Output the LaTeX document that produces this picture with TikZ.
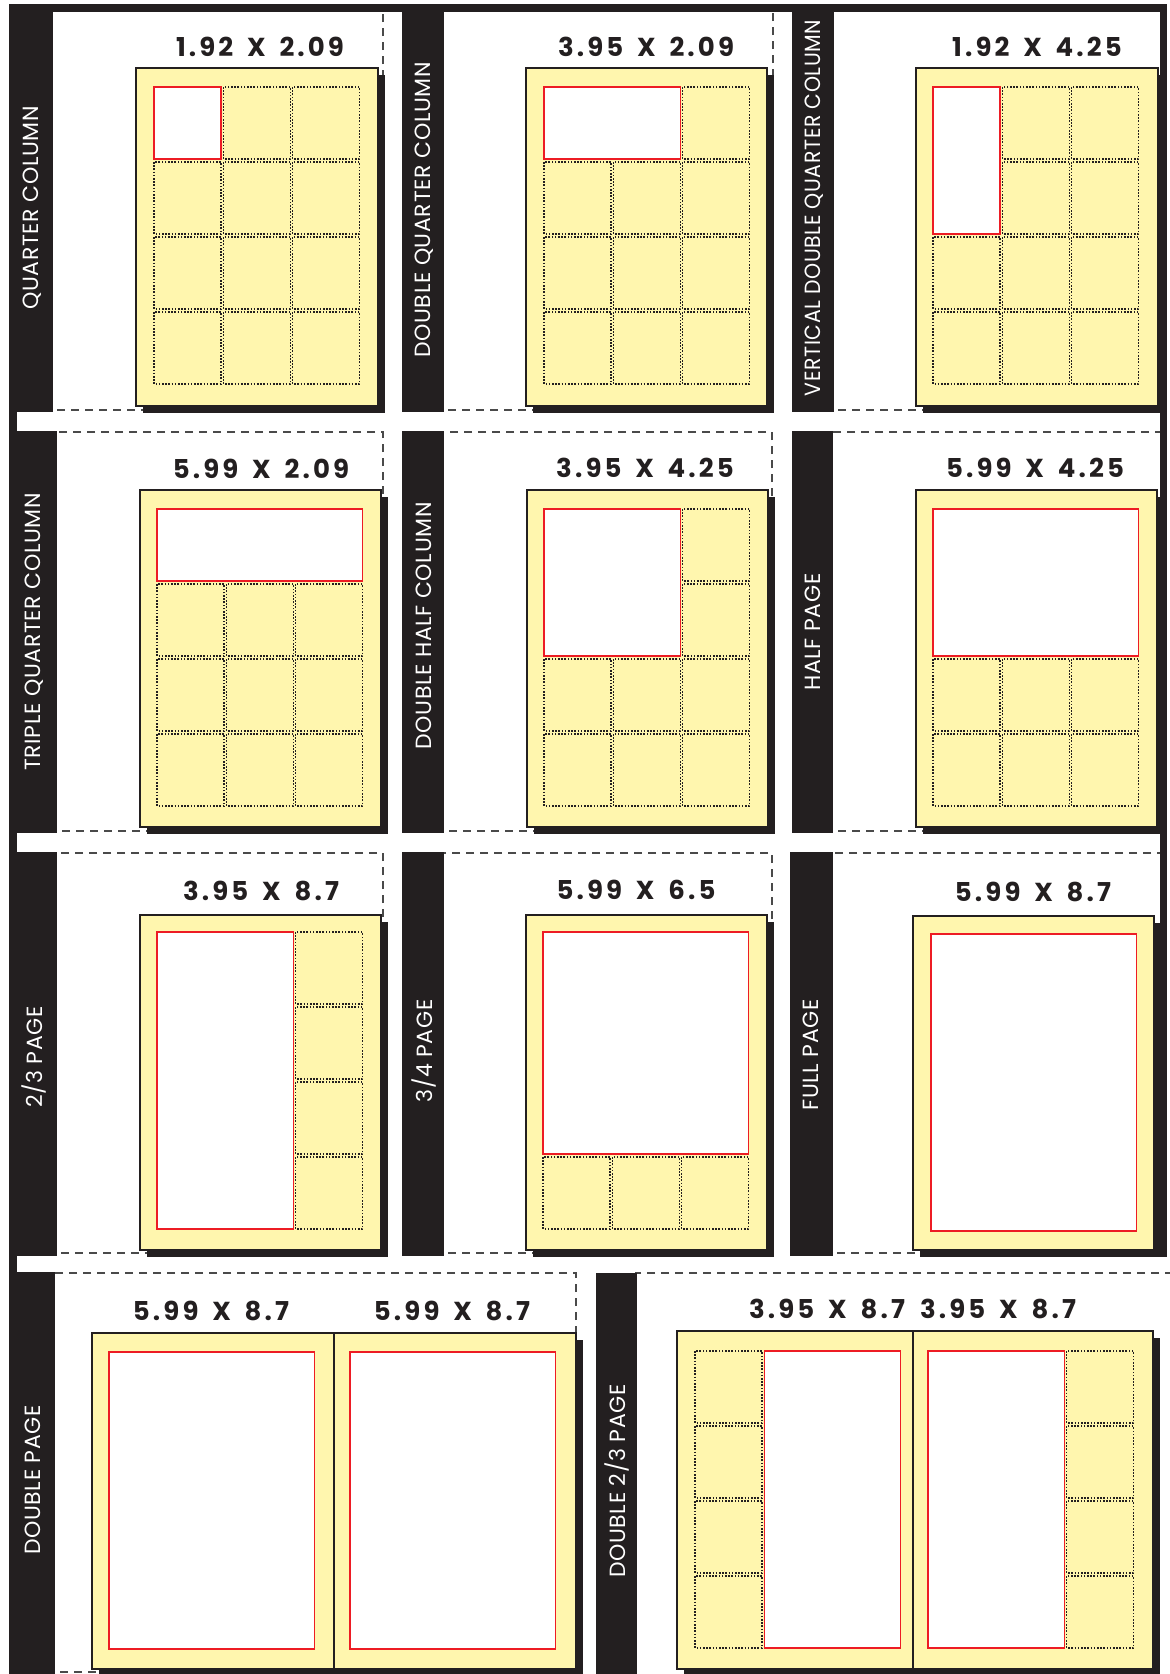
\documentclass[tikz,border=0pt]{standalone}
\usepackage{fontspec}
\usepackage{xcolor}
\newfontfamily\titlefont[LetterSpace=12,WordSpace=1.6]{Poppins}
\newfontfamily\labelfont[LetterSpace=3]{Poppins}
\usepackage{tikz}
\usetikzlibrary{calc}

\definecolor{inkblack}{HTML}{231F20}
\definecolor{pageyellow}{HTML}{FFF6AE}
\definecolor{adred}{HTML}{ED1C24}
\definecolor{dashgray}{HTML}{4A4A4A}

% one dotted slot of the 3x4 grid: gx, gy, col, row
\newcommand{\slotcell}[4]{\draw[slotbox] ({#1+#3*69.3},{#2+#4*75}) rectangle ++(67,72);}
% red ad space over cols #3..#5 and rows #4..#6
\newcommand{\adspace}[6]{\draw[adbox] ({#1+#3*69.3},{#2+#4*75}) rectangle ({#1+#5*69.3+67},{#2+#6*75+72});}
% page sheet with its drop shadow
\newcommand{\pagesheet}[4]{\fill[inkblack] (#1+7,#2+7) rectangle (#3+7,#4+7);
  \draw[pagebox] (#1,#2) rectangle (#3,#4);}

\begin{document}
\begin{tikzpicture}[x=1pt,y=-1pt,
    panelline/.style={draw=dashgray, line width=1.5pt, dash pattern=on 8pt off 6pt},
    pagebox/.style={draw=inkblack, line width=1.3pt, fill=pageyellow},
    slotbox/.style={draw=inkblack, line width=1.1pt, dash pattern=on 1.6pt off 1.6pt},
    adbox/.style={draw=adred, line width=1.3pt, fill=white},
    striplabel/.style={rotate=90, text=white, inner sep=0pt,
      font=\labelfont\fontsize{22}{22}\selectfont},
    sizetitle/.style={text=inkblack, inner sep=0pt,
      font=\titlefont\bfseries\fontsize{26}{26}\selectfont}]

  \useasboundingbox (0,0) rectangle (1170,1674);

  % Dashed panel borders
  \foreach \xa/\ya/\xb/\yb in {51/10/383/410, 442/10/773/410, 832/10/1165/410,
      55/432/383/831, 442/432/772/831, 831/432/1165/831,
      55/853/383/1253, 442/853/772/1253, 831/853/1165/1253,
      53/1273/576/1672, 635/1273/1180/1690}
    \draw[panelline] (\xa,\ya) rectangle (\xb,\yb);

  % Black frame and label strips
  \fill[inkblack] (9,4) rectangle (1167,12);
  \fill[inkblack] (9,4) rectangle (17,1674);
  \fill[inkblack] (1160,4) rectangle (1167,1257);
  \foreach \xa/\ya/\xb/\yb in {9/4/53/412, 402/4/444/412, 792/4/834/412,
      9/431/57/833, 402/431/444/833, 792/431/833/833,
      9/852/57/1256, 402/852/444/1256, 790/852/833/1256,
      9/1272/55/1674, 596/1273/637/1674}
    \fill[inkblack] (\xa,\ya) rectangle (\xb,\yb);

  % Row 1
  \pagesheet{136}{68}{378}{406}
  \adspace{154}{87}{0}{0}{0}{0}
  \foreach \i/\j in {1/0,2/0} {\slotcell{154}{87}{\i}{\j}}
  \foreach \i in {0,1,2} {\foreach \j in {1,2,3} {\slotcell{154}{87}{\i}{\j}}}

  \pagesheet{526}{68}{767}{406}
  \adspace{544}{87}{0}{0}{1}{0}
  \slotcell{544}{87}{2}{0}
  \foreach \i in {0,1,2} {\foreach \j in {1,2,3} {\slotcell{544}{87}{\i}{\j}}}

  \pagesheet{916}{68}{1158}{406}
  \adspace{933}{87}{0}{0}{0}{1}
  \foreach \i/\j in {1/0,2/0,1/1,2/1} {\slotcell{933}{87}{\i}{\j}}
  \foreach \i in {0,1,2} {\foreach \j in {2,3} {\slotcell{933}{87}{\i}{\j}}}

  % Row 2
  \pagesheet{140}{490}{381}{827}
  \adspace{157}{509}{0}{0}{2}{0}
  \foreach \i in {0,1,2} {\foreach \j in {1,2,3} {\slotcell{157}{509}{\i}{\j}}}

  \pagesheet{527}{490}{768}{827}
  \adspace{544}{509}{0}{0}{1}{1}
  \foreach \i/\j in {2/0,2/1} {\slotcell{544}{509}{\i}{\j}}
  \foreach \i in {0,1,2} {\foreach \j in {2,3} {\slotcell{544}{509}{\i}{\j}}}

  \pagesheet{916}{490}{1157}{827}
  \adspace{933}{509}{0}{0}{2}{1}
  \foreach \i in {0,1,2} {\foreach \j in {2,3} {\slotcell{933}{509}{\i}{\j}}}

  % Row 3
  \pagesheet{140}{915}{381}{1250}
  \adspace{157}{932}{0}{0}{1}{3}
  \foreach \j in {0,1,2,3} {\slotcell{157}{932}{2}{\j}}

  \pagesheet{526}{915}{767}{1250}
  \adspace{543}{932}{0}{0}{2}{2}
  \foreach \i in {0,1,2} {\slotcell{543}{932}{\i}{3}}

  \pagesheet{913}{916}{1154}{1250}
  \adspace{931}{934}{0}{0}{2}{3}

  % Row 4
  \pagesheet{92}{1333}{576}{1669}
  \draw[draw=inkblack, line width=1.3pt] (334,1333) -- (334,1669);
  \adspace{109}{1352}{0}{0}{2}{3}
  \adspace{350}{1352}{0}{0}{2}{3}

  \pagesheet{677}{1331}{1153}{1669}
  \draw[draw=inkblack, line width=1.3pt] (913,1331) -- (913,1669);
  \foreach \j in {0,1,2,3} {\slotcell{695}{1351}{0}{\j}}
  \adspace{695}{1351}{1}{0}{2}{3}
  \adspace{928}{1351}{0}{0}{1}{3}
  \foreach \j in {0,1,2,3} {\slotcell{928}{1351}{2}{\j}}

  % Sizes
  \node[sizetitle] (size-1-1) at (260,47) {1.92 X 2.09};
  \node[sizetitle] (size-1-2) at (646,47) {3.95 X 2.09};
  \node[sizetitle] (size-1-3) at (1037,47) {1.92 X 4.25};
  \node[sizetitle] (size-2-1) at (261,469) {5.99 X 2.09};
  \node[sizetitle] (size-2-2) at (645,468) {3.95 X 4.25};
  \node[sizetitle] (size-2-3) at (1035,468) {5.99 X 4.25};
  \node[sizetitle] (size-3-1) at (261,891) {3.95 X 8.7};
  \node[sizetitle] (size-3-2) at (636,890) {5.99 X 6.5};
  \node[sizetitle] (size-3-3) at (1033,892) {5.99 X 8.7};
  \node[sizetitle] (size-4-1a) at (211,1311) {5.99 X 8.7};
  \node[sizetitle] (size-4-1b) at (452,1311) {5.99 X 8.7};
  \node[sizetitle] (size-4-2a) at (827,1309) {3.95 X 8.7};
  \node[sizetitle] (size-4-2b) at (998,1309) {3.95 X 8.7};

  % Strip labels
  \node[striplabel] (label-1-1) at (32,208) {QUARTER COLUMN};
  \node[striplabel] (label-1-2) at (424,210) {DOUBLE QUARTER COLUMN};
  \node[striplabel, xscale=0.93] (label-1-3) at (814,208) {VERTICAL DOUBLE QUARTER COLUMN};
  \node[striplabel] (label-2-1) at (34,632) {TRIPLE QUARTER COLUMN};
  \node[striplabel] (label-2-2) at (424,626) {DOUBLE HALF COLUMN};
  \node[striplabel] (label-2-3) at (813,632) {HALF PAGE};
  \node[striplabel] (label-3-1) at (34,1057) {2/3 PAGE};
  \node[striplabel] (label-3-2) at (424,1051) {3/4 PAGE};
  \node[striplabel] (label-3-3) at (811,1055) {FULL PAGE};
  \node[striplabel] (label-4-1) at (33,1480) {DOUBLE PAGE};
  \node[striplabel] (label-4-2) at (617,1481) {DOUBLE 2/3 PAGE};
\end{tikzpicture}
\end{document}
